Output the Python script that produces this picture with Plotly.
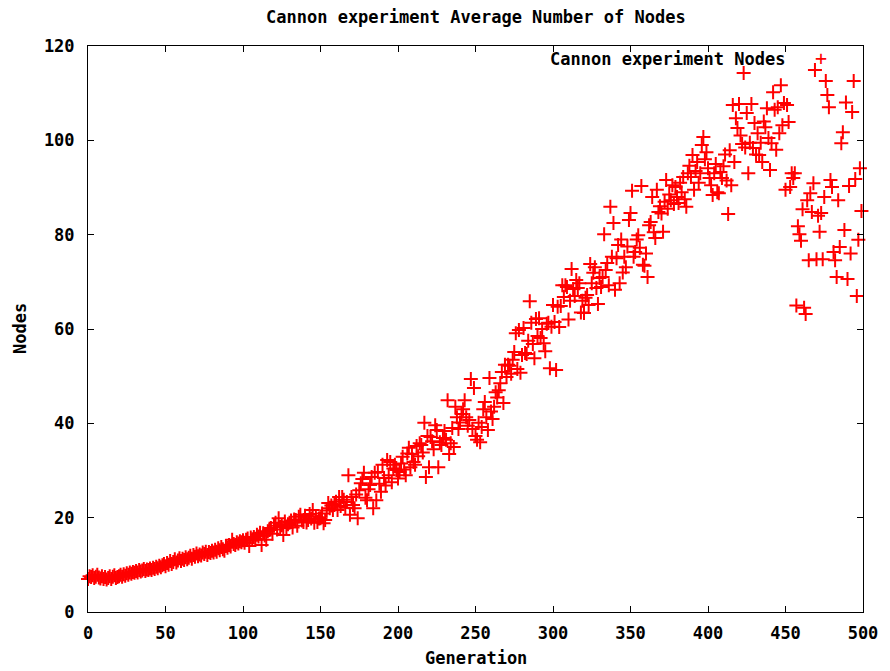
import plotly.graph_objects as go

title_text = "Cannon experiment Average Number of Nodes"
series_name = "Cannon experiment Nodes"
x_label = "Generation"
y_label = "Nodes"
x_ticks = [0, 50, 100, 150, 200, 250, 300, 350, 400, 450, 500]
y_ticks = [0, 20, 40, 60, 80, 100, 120]

nodes_000_099 = [
    7.0, 7.6, 7.4, 7.8, 7.2, 7.5, 7.9, 7.3, 7.1, 7.6,
    7.0, 7.4, 6.9, 7.2, 7.6, 7.0, 7.5, 7.8, 7.2, 7.4,
    7.6, 7.9, 7.5, 8.0, 7.7, 8.2, 7.9, 8.4, 8.1, 8.5,
    8.3, 8.7, 8.4, 8.9, 8.6, 8.8, 9.1, 8.7, 9.0, 8.9,
    9.2, 8.9, 9.4, 9.1, 9.6, 9.3, 9.8, 9.5, 9.9, 10.2,
    9.7, 10.4, 10.0, 10.8, 10.2, 10.6, 11.2, 10.5, 10.9, 11.4,
    10.8, 11.3, 11.0, 11.6, 11.2, 11.5, 11.9, 11.3, 12.1, 11.7,
    12.4, 11.8, 12.2, 12.0, 12.6, 12.3, 12.8, 12.1, 12.7, 12.5,
    13.0, 12.6, 13.2, 12.8, 13.5, 13.1, 13.8, 13.3, 13.0, 14.0,
    13.6, 14.2, 13.9, 15.3, 14.4, 14.2, 14.8, 14.5, 15.0, 14.8,
]
nodes_100_199 = [
    15.2, 14.7, 15.3, 15.6, 14.0, 15.8, 15.4, 15.9, 15.3, 16.4,
    16.0, 16.8, 14.2, 16.7, 16.2, 15.3, 17.1, 17.4, 17.8, 16.6,
    18.3, 18.9, 17.5, 19.9, 18.0, 18.4, 16.3, 19.2, 17.8, 18.6,
    18.9, 19.4, 17.9, 19.6, 19.5, 18.3, 20.2, 20.6, 19.4, 19.1,
    20.4, 19.0, 19.5, 20.8, 19.8, 21.6, 18.9, 20.3, 19.1, 19.8,
    19.9, 20.9, 18.8, 19.5, 21.5, 23.1, 22.0, 22.6, 21.6, 22.7,
    23.4, 21.6, 24.4, 22.5, 24.4, 23.8, 22.1, 23.3, 29.0, 20.6,
    24.4, 22.7, 22.0, 24.9, 19.9, 25.8, 27.3, 28.2, 29.5, 24.2,
    23.7, 26.0, 26.9, 28.6, 22.0, 29.5, 23.7, 29.7, 27.2, 25.5,
    31.2, 28.4, 26.8, 32.2, 29.0, 31.8, 27.5, 30.4, 31.2, 30.1,
]
nodes_200_299 = [
    28.3, 29.7, 31.5, 32.9, 30.2, 29.0, 33.6, 34.8, 30.7, 33.5,
    31.8, 31.2, 35.2, 33.0, 35.8, 35.4, 33.8, 40.1, 28.6, 37.3,
    30.7, 37.1, 36.2, 34.5, 39.6, 38.6, 30.7, 36.0, 35.4, 36.9,
    38.4, 36.5, 44.9, 33.5, 35.8, 39.0, 35.0, 43.5, 41.3, 38.8,
    40.2, 42.0, 43.0, 44.9, 41.3, 39.5, 40.7, 49.4, 38.8, 47.5,
    37.3, 36.5, 40.1, 36.0, 39.2, 43.0, 44.5, 41.3, 38.6, 49.6,
    42.5, 40.9, 43.5, 46.6, 45.5, 47.0, 48.5, 50.9, 44.3, 52.4,
    49.8, 52.4, 52.2, 50.5, 53.5, 55.1, 59.1, 51.5, 59.8, 50.7,
    54.5, 60.2, 54.9, 54.7, 57.5, 65.9, 61.3, 56.8, 53.8, 62.1,
    58.5, 62.3, 58.1, 60.0, 57.0, 55.3, 61.1, 61.3, 51.7, 60.5,
]
nodes_300_399 = [
    65.1, 61.5, 51.3, 64.7, 60.4, 64.9, 69.3, 66.8, 69.3, 68.9,
    62.0, 66.0, 72.7, 68.5, 67.0, 70.4, 68.7, 69.7, 63.5, 66.0,
    63.4, 66.6, 67.2, 65.1, 73.8, 69.7, 71.9, 73.1, 68.7, 65.3,
    70.8, 68.9, 71.0, 80.1, 72.5, 74.0, 69.3, 85.9, 75.3, 82.5,
    68.3, 75.0, 77.8, 69.7, 79.0, 72.0, 75.3, 73.1, 77.5, 83.1,
    84.6, 89.3, 75.3, 76.3, 79.0, 79.9, 77.2, 90.3, 73.6, 73.4,
    76.0, 71.0, 82.0, 82.7, 88.0, 80.5, 79.3, 89.5, 84.8, 86.0,
    84.5, 80.6, 87.0, 91.6, 85.5, 88.5, 87.3, 90.5, 86.5, 90.1,
    88.0, 86.7, 91.0, 89.0, 92.2, 87.5, 85.9, 93.0, 94.6, 92.2,
    96.9, 89.5, 93.5, 95.4, 91.0, 93.0, 99.0, 100.7, 96.0, 97.5,
]
nodes_400_499 = [
    94.1, 92.0, 90.5, 88.4, 93.0, 95.0, 89.0, 88.8, 93.3, 92.0,
    94.5, 97.0, 91.5, 84.4, 97.9, 90.5, 107.5, 95.4, 104.7, 102.6,
    107.7, 101.0, 99.2, 114.3, 98.5, 105.8, 93.0, 99.5, 107.7, 98.4,
    103.7, 97.0, 101.5, 96.9, 99.5, 95.4, 104.0, 102.8, 106.8, 100.5,
    93.7, 99.4, 110.2, 106.5, 98.0, 107.0, 101.5, 111.7, 103.2, 107.9,
    89.5, 107.5, 103.9, 90.1, 93.0, 92.0, 93.0, 65.0, 81.8, 80.1,
    78.7, 85.4, 64.5, 63.2, 87.3, 74.6, 88.8, 84.8, 90.9, 114.9,
    74.8, 84.0, 80.6, 84.6, 74.8, 88.0, 112.6, 109.6, 107.0, 91.6,
    90.1, 76.3, 74.6, 71.0, 87.3, 77.4, 99.4, 101.7, 81.0, 108.0,
    70.6, 90.3, 76.0, 106.0, 112.6, 91.8, 67.0, 78.9, 94.1, 85.0,
]

nodes = nodes_000_099 + nodes_100_199 + nodes_200_299 + nodes_300_399 + nodes_400_499
generations = list(range(len(nodes)))

FONT = "DejaVu Sans Mono"
fnt = dict(family=FONT, size=17, color="black", weight="bold")

fig = go.Figure()
fig.add_trace(go.Scatter(
    x=generations, y=nodes, mode="markers", name=series_name,
    marker=dict(symbol="cross-thin", size=10, color="red",
                line=dict(width=2, color="red")),
    cliponaxis=False, showlegend=False,
))

axis_common = dict(
    showgrid=False, zeroline=False, showline=True, linecolor="black",
    linewidth=1, mirror="ticks", ticks="inside", ticklen=6, tickwidth=1,
    tickcolor="black", tickfont=fnt,
)
fig.update_layout(
    width=890, height=671,
    margin=dict(l=88, r=21, t=46, b=59),
    paper_bgcolor="white", plot_bgcolor="white",
    xaxis=dict(range=[0, 500], tickvals=x_ticks, ticktext=[str(v) for v in x_ticks],
               ticklabelstandoff=6, **axis_common),
    yaxis=dict(range=[0, 120], tickvals=y_ticks, ticktext=[str(v) for v in y_ticks],
               ticklabelstandoff=9, **axis_common),
    annotations=[
        dict(text=title_text, xref="paper", yref="paper", x=0.5, y=1, yshift=29,
             xanchor="center", yanchor="middle", showarrow=False, font=fnt),
        dict(text=x_label, xref="paper", yref="paper", x=0.5, y=0, yshift=-46,
             xanchor="center", yanchor="middle", showarrow=False, font=fnt),
        dict(text=y_label, xref="paper", yref="paper", x=0, y=0.5, xshift=-68,
             xanchor="center", yanchor="middle", textangle=-90, showarrow=False, font=fnt),
        dict(text=series_name, xref="paper", yref="paper", x=1, y=1, xshift=-76, yshift=-13,
             xanchor="right", yanchor="middle", showarrow=False, font=fnt),
        dict(text="+", xref="paper", yref="paper", x=1, y=1, xshift=-42, yshift=-12,
             xanchor="center", yanchor="middle", showarrow=False,
             font=dict(family=FONT, size=20, color="red")),
    ],
)

fig.write_html("out.html")
